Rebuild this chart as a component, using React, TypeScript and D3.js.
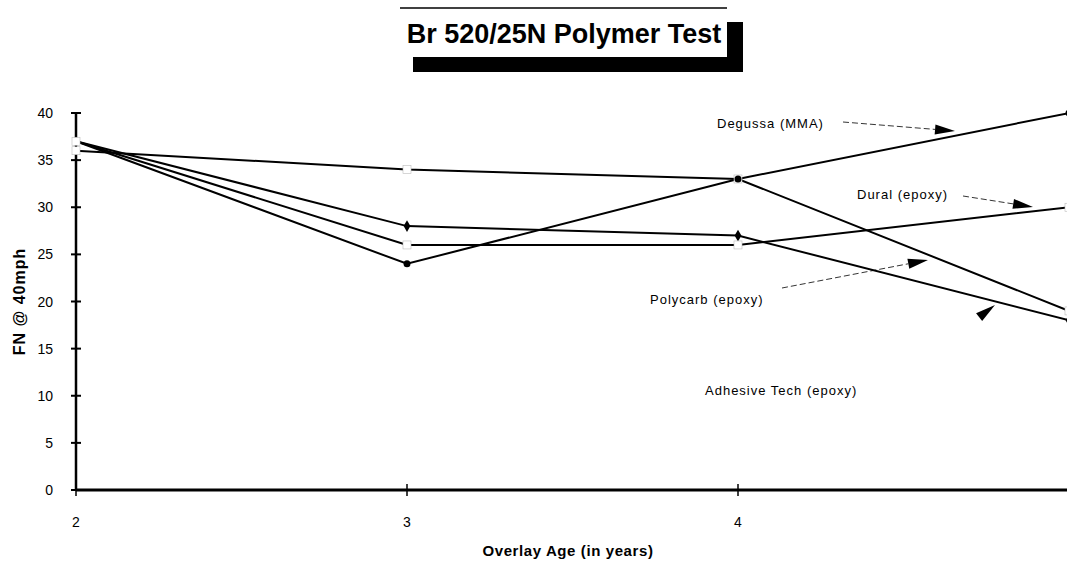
import React, { useEffect, useRef } from 'react';
import * as d3 from 'd3';

const years = [2, 3, 4, 5];
const yTicks = [0, 5, 10, 15, 20, 25, 30, 35, 40];
const xTicks = [2, 3, 4];

const seriesA = [36, 34, 33, 19]; // hollow
const seriesB = [37, 24, 33, 40]; // Degussa, dot
const seriesC = [37, 28, 27, 18]; // diamond
const seriesD = [37, 26, 26, 30]; // Dural, hollow

const seriesList = [
  { name: 'A', values: seriesA, marker: 'hollow' },
  { name: 'B', values: seriesB, marker: 'dot' },
  { name: 'C', values: seriesC, marker: 'diamond' },
  { name: 'D', values: seriesD, marker: 'hollow' },
];

const W = 1067;
const H = 564;
const font = 'Liberation Sans, Arial, sans-serif';

export default function App() {
  const svgRef = useRef<SVGSVGElement>(null);

  useEffect(() => {
    if (!svgRef.current) return;
    const svg = d3.select(svgRef.current);
    svg.selectAll('*').remove();

    const x = d3.scaleLinear().domain([2, 5]).range([76, 1069]);
    const y = d3.scaleLinear().domain([0, 40]).range([490, 113]);

    svg.append('rect').attr('width', W).attr('height', H).attr('fill', '#fff');

    // title box with shadow
    const tg = svg.append('g');
    tg.append('rect').attr('x', 413).attr('y', 22).attr('width', 330).attr('height', 50).attr('fill', '#000');
    tg.append('rect').attr('x', 399).attr('y', 8).attr('width', 328).attr('height', 49).attr('fill', '#fff');
    tg.append('line').attr('x1', 400).attr('x2', 727).attr('y1', 8).attr('y2', 8)
      .attr('stroke', '#000').attr('stroke-width', 1.5);
    tg.append('text').attr('x', 564).attr('y', 43).attr('text-anchor', 'middle')
      .attr('font-family', font).attr('font-weight', 'bold')
      .attr('font-size', 27).attr('fill', '#000').text('Br 520/25N Polymer Test');

    // axes
    svg.append('line').attr('x1', x(2)).attr('x2', x(2)).attr('y1', y(40)).attr('y2', y(0))
      .attr('stroke', '#000').attr('stroke-width', 2.5);
    svg.append('line').attr('x1', x(2)).attr('x2', W).attr('y1', y(0)).attr('y2', y(0))
      .attr('stroke', '#000').attr('stroke-width', 3);

    yTicks.forEach(t => {
      svg.append('line').attr('x1', x(2) - 5).attr('x2', x(2) + 5).attr('y1', y(t)).attr('y2', y(t))
        .attr('stroke', '#000').attr('stroke-width', 2);
      svg.append('text').attr('x', 53).attr('y', y(t) + 5).attr('text-anchor', 'end')
        .attr('font-family', font).attr('font-size', 14)
        .attr('fill', '#000').text(t);
    });
    xTicks.forEach(t => {
      svg.append('line').attr('x1', x(t)).attr('x2', x(t)).attr('y1', y(0) - 6).attr('y2', y(0) + 6)
        .attr('stroke', '#000').attr('stroke-width', 1.5);
      svg.append('text').attr('x', x(t)).attr('y', 527).attr('text-anchor', 'middle')
        .attr('font-family', font).attr('font-size', 14)
        .attr('fill', '#000').text(t);
    });

    svg.append('text').attr('transform', `translate(25,${y(20)}) rotate(-90)`).attr('text-anchor', 'middle')
      .attr('font-family', font).attr('font-weight', 'bold').attr('letter-spacing', 1)
      .attr('font-size', 16).attr('fill', '#000').text('FN @ 40mph');
    svg.append('text').attr('x', 568).attr('y', 556).attr('text-anchor', 'middle')
      .attr('font-family', font).attr('font-weight', 'bold').attr('letter-spacing', 0.6)
      .attr('font-size', 15).attr('fill', '#000').text('Overlay Age (in years)');

    // lines
    const line = d3.line<number>().x((_, i) => x(years[i])).y(d => y(d));
    seriesList.forEach(s => {
      svg.append('path').datum(s.values).attr('d', line).attr('fill', 'none')
        .attr('stroke', '#000').attr('stroke-width', 2);
    });
    seriesList.forEach(s => {
      s.values.forEach((v, i) => {
        const cx = x(years[i]);
        const cy = y(v);
        if (s.marker === 'hollow') {
          svg.append('rect').attr('x', cx - 4).attr('y', cy - 4).attr('width', 8).attr('height', 8)
            .attr('fill', '#fff').attr('stroke', '#bbb').attr('stroke-width', 0.6);
        } else if (s.marker === 'dot') {
          svg.append('circle').attr('cx', cx).attr('cy', cy).attr('r', 3.5).attr('fill', '#000');
        } else {
          svg.append('path').attr('d', d3.symbol(d3.symbolDiamond, 40)())
            .attr('transform', `translate(${cx},${cy})`).attr('fill', '#000');
        }
      });
    });

    // annotations
    const notes = [
      { text: 'Degussa (MMA)', tx: 717, ty: 128 },
      { text: 'Dural (epoxy)', tx: 857, ty: 199 },
      { text: 'Polycarb (epoxy)', tx: 650, ty: 304 },
      { text: 'Adhesive Tech  (epoxy)', tx: 705, ty: 395 },
    ];
    notes.forEach(n => {
      svg.append('text').attr('x', n.tx).attr('y', n.ty).attr('font-family', font)
        .attr('font-size', 13).attr('letter-spacing', 1).attr('fill', '#000').text(n.text);
    });

    const arrows = [
      { x1: 843, y1: 122, x2: 955, y2: 131, dash: true },
      { x1: 963, y1: 196, x2: 1033, y2: 207, dash: true },
      { x1: 782, y1: 288, x2: 928, y2: 260, dash: true },
      { x1: 978, y1: 318, x2: 995, y2: 305, dash: false },
    ];
    arrows.forEach(a => {
      const ang = Math.atan2(a.y2 - a.y1, a.x2 - a.x1);
      const len = 20;
      const wid = 5;
      const bx = a.x2 - len * Math.cos(ang);
      const by = a.y2 - len * Math.sin(ang);
      if (a.dash) {
        svg.append('line').attr('x1', a.x1).attr('y1', a.y1).attr('x2', bx).attr('y2', by)
          .attr('stroke', '#000').attr('stroke-width', 0.8).attr('stroke-dasharray', '6,3');
      }
      const px = -Math.sin(ang) * wid;
      const py = Math.cos(ang) * wid;
      svg.append('path')
        .attr('d', `M${a.x2},${a.y2}L${bx + px},${by + py}L${bx - px},${by - py}Z`)
        .attr('fill', '#000');
    });
  }, []);

  return <svg ref={svgRef} width={W} height={H} style={{ position: 'absolute', left: 0, top: 0 }} />;
}
